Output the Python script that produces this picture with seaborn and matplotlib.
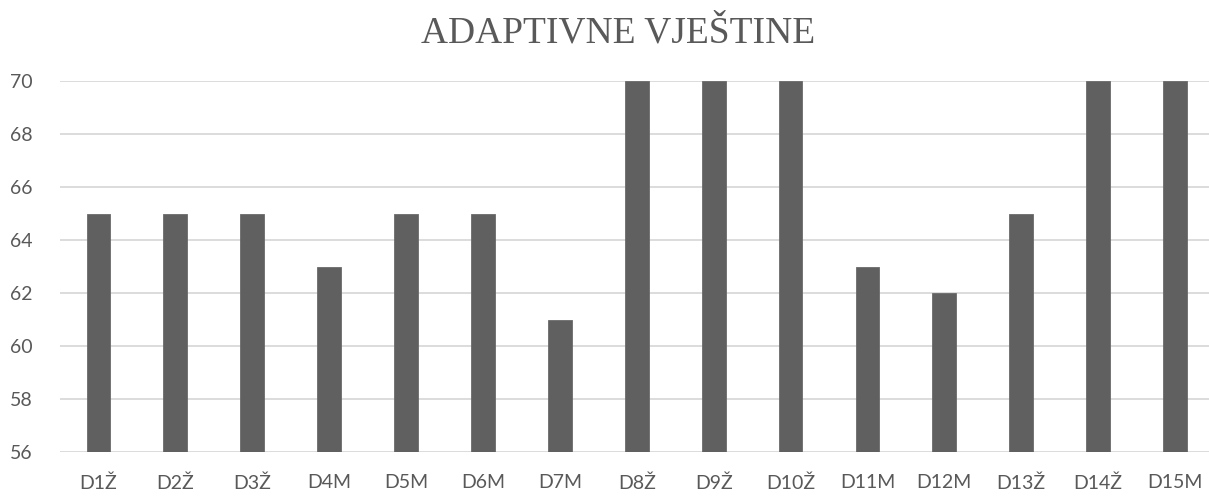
import matplotlib
matplotlib.use("Agg")
import matplotlib.pyplot as plt
import seaborn as sns
import pandas as pd

categories = ["D1Ž", "D2Ž", "D3Ž", "D4M", "D5M", "D6M", "D7M", "D8Ž", "D9Ž",
              "D10Ž", "D11M", "D12M", "D13Ž", "D14Ž", "D15M"]
values = [65, 65, 65, 63, 65, 65, 61, 70, 70, 70, 63, 62, 65, 70, 70]
yticks = [56, 58, 60, 62, 64, 66, 68, 70]
title = "ADAPTIVNE VJEŠTINE"

df = pd.DataFrame({"cat": categories, "val": values})

sns.set_style("white")
plt.rcParams["font.family"] = ["Lato", "DejaVu Sans"]

W, H = 1209, 496
fig = plt.figure(figsize=(W / 100, H / 100), dpi=100)
ax = fig.add_axes([60 / W, 44 / H, 1153.5 / W, 371 / H])

sns.barplot(data=df, x="cat", y="val", color="#606060", width=0.31,
            saturation=1, ax=ax, zorder=3, edgecolor="#6a6a6a", linewidth=0.6)
# bars should start from bottom of axis (56)
for p in ax.patches:
    h = p.get_height()
    p.set_y(56)
    p.set_height(h - 56)

ax.set_ylim(56, 70)
ax.set_xlim(-0.5, 14.5)
ax.set_yticks(yticks)
ax.set_xlabel("")
ax.set_ylabel("")
ax.grid(axis="y", color="#d9d9d9", linewidth=1.3, zorder=0)
ax.grid(axis="x", visible=False)
for s in ax.spines.values():
    s.set_visible(False)
ax.tick_params(axis="both", length=0, labelsize=14, colors="#595959", pad=16)
ax.tick_params(axis="y", pad=20)

fig.text(618 / W, 1 - 33 / H, title, ha="center", va="center",
         fontsize=27, color="#595959", family=["Liberation Serif", "DejaVu Serif"])

fig.savefig("out.png", dpi=100, facecolor="white")
